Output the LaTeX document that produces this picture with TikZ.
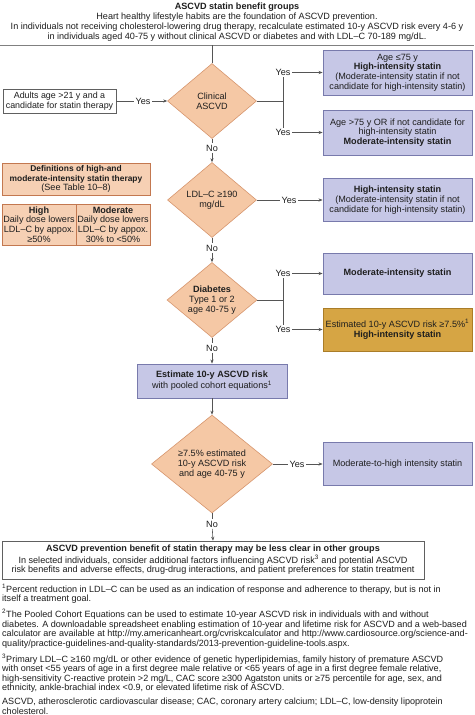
\documentclass[tikz,border=0pt]{standalone}
\usepackage{fontspec}
\setmainfont{Liberation Sans}
\usetikzlibrary{shapes.geometric,arrows.meta,calc}
\definecolor{lav}{RGB}{198,199,230}
\definecolor{lavd}{RGB}{120,122,172}
\definecolor{pch}{RGB}{245,200,165}
\definecolor{pchd}{RGB}{215,150,110}
\definecolor{defc}{RGB}{246,208,180}
\definecolor{defd}{RGB}{195,120,80}
\definecolor{goldc}{RGB}{214,165,68}
\definecolor{goldd}{RGB}{170,125,40}
\definecolor{ln}{RGB}{85,85,85}
\definecolor{txt}{RGB}{30,30,30}
\begin{document}
\begin{tikzpicture}[x=1pt,y=-1pt,
  every node/.style={font=\fontsize{9.1}{9.7}\selectfont, text=txt, inner sep=1pt},
  res/.style={draw=lavd, fill=lav, line width=0.9pt, minimum width=149pt, align=center, inner sep=1pt},
  gres/.style={draw=goldd, fill=goldc, line width=0.9pt, minimum width=149pt, align=center, inner sep=1pt},
  dec/.style={diamond, aspect=1.2, draw=pchd, fill=pch, line width=0.6pt, align=center, inner sep=0pt},
  defbox/.style={draw=defd, fill=defc, line width=0.7pt, align=center, inner sep=0pt},
  wbox/.style={draw=gray!75!black, fill=white, line width=0.6pt, align=center},
  conn/.style={draw=ln, line width=0.6pt},
  arr/.style={conn, -{Stealth[length=4pt,width=3.2pt]}},
  lbl/.style={fill=white, inner sep=1.5pt}
]
\useasboundingbox (0,0) rectangle (474,715);
\fill[white] (0,0) rectangle (474,715);

% header
\node[align=center, font=\fontsize{9.1}{10}\selectfont] (header) at (237,22) {{\bfseries ASCVD statin benefit groups}\\
Heart healthy lifestyle habits are the foundation of ASCVD prevention.\\
In individuals not receiving cholesterol-lowering drug therapy, recalculate estimated 10-y ASCVD risk every 4-6 y\\
in individuals aged 40-75 y without clinical ASCVD or diabetes and with LDL--C 70-189 mg/dL.};
\coordinate (rL) at (0,45);
\coordinate (rR) at (474,45);
\coordinate (rC) at (212,45);
\draw[conn, draw=gray] (rL) -- (rR);

% diamond 1
\node[dec, minimum width=89pt, minimum height=75pt] (d1) at (212,101) {Clinical\\ASCVD};
\draw[conn] (rC) -- (d1.north);

\node[wbox, minimum width=113pt, minimum height=24pt, inner sep=0.5pt, font=\fontsize{8.9}{9.7}\selectfont] (adult) at (59.5,101) {Adults age >21 y and a\\candidate for statin therapy};
\node[lbl] (y0) at (143,101) {Yes};
\draw[conn] (adult) -- (y0);
\draw[arr] (y0) -- (d1.west);

\node[res, minimum height=45pt] (b1) at (397.5,72.5) {Age ≤75 y\\\textbf{High-intensity statin}\\(Moderate-intensity statin if not\\candidate for high-intensity statin)};
\node[res, minimum height=45pt] (b2) at (397.5,132.5) {Age >75 y OR if not candidate for\\high-intensity statin\\\textbf{Moderate-intensity statin}};
\node[lbl] (y1) at (283,72.5) {Yes};
\node[lbl] (y2) at (283,132.5) {Yes};
\coordinate (br1) at (283,101);
\draw[conn] (d1.east) -- (br1);
\draw[conn] (y1) -- (y2);
\draw[arr] (y1) -- (b1);
\draw[arr] (y2) -- (b2);

% diamond 2
\node[lbl] (n1) at (212,148) {No};
\node[dec, minimum width=89pt, minimum height=75pt] (d2) at (212,200) {LDL--C ≥190\\mg/dL};
\draw[conn] (d1.south) -- (n1);
\draw[arr] (n1) -- (d2.north);
\node[res, minimum height=43pt] (b3) at (397.5,200) {\textbf{High-intensity statin}\\(Moderate-intensity statin if not\\candidate for high-intensity statin)};
\node[lbl] (y3) at (289,200) {Yes};
\draw[conn] (d2.east) -- (y3);
\draw[arr] (y3) -- (b3);

% definitions
\node[defbox, minimum width=148pt, minimum height=32pt] (defs) at (76,179) {{\fontsize{8.4}{9.7}\selectfont\textbf{Definitions of high-and}}\\{\fontsize{8.4}{9.7}\selectfont\textbf{moderate-intensity statin therapy}}\\(See Table 10--8)};
\node[defbox, minimum width=74pt, minimum height=41pt] (th) at (39,224.5) {\textbf{High}\\Daily dose lowers\\LDL--C by appox.\\≥50\%};
\node[defbox, minimum width=74pt, minimum height=41pt] (tm) at (113,224.5) {\textbf{Moderate}\\Daily dose lowers\\LDL--C by appox.\\30\% to <50\%};

% diamond 3
\node[lbl] (n2) at (212,248) {No};
\node[dec, minimum width=90pt, minimum height=75pt] (d3) at (212,300) {\textbf{Diabetes}\\Type 1 or 2\\age 40-75 y};
\draw[conn] (d2.south) -- (n2);
\draw[arr] (n2) -- (d3.north);
\node[res, minimum height=41pt] (b4) at (397.5,273.5) {\textbf{Moderate-intensity statin}};
\node[gres, minimum height=43pt] (b5) at (397.5,329.5) {Estimated 10-y ASCVD risk ≥7.5\%\textsuperscript{1}\\\textbf{High-intensity statin}};
\node[lbl] (y4) at (283,273.5) {Yes};
\node[lbl] (y5) at (283,329.5) {Yes};
\coordinate (br2) at (283,300);
\draw[conn] (d3.east) -- (br2);
\draw[conn] (y4) -- (y5);
\draw[arr] (y4) -- (b4);
\draw[arr] (y5) -- (b5);

% estimate
\node[lbl] (n3) at (212,348) {No};
\node[res, minimum width=150pt, minimum height=34pt] (est) at (212,381) {\textbf{Estimate 10-y ASCVD risk}\\with pooled cohort equations\textsuperscript{1}};
\draw[conn] (d3.south) -- (n3);
\draw[arr] (n3) -- (est.north);

% diamond 4
\node[dec, aspect=1.23, minimum width=121pt, minimum height=98pt] (d4) at (212,464) {≥7.5\% estimated\\10-y ASCVD risk\\and age 40-75 y};
\draw[arr] (est.south) -- (d4.north);
\node[res, minimum height=43pt] (b6) at (397.5,464) {Moderate-to-high intensity statin};
\node[lbl] (y6) at (297,464) {Yes};
\draw[conn] (d4.east) -- (y6);
\draw[arr] (y6) -- (b6);

% bottom
\node[lbl] (n4) at (212,524) {No};
\node[wbox, minimum width=422pt, minimum height=38pt, inner sep=1pt] (bot) at (213,560) {\textbf{ASCVD prevention benefit of statin therapy may be less clear in other groups}\\
In selected individuals, consider additional factors influencing ASCVD risk\textsuperscript{3} and potential ASCVD\\
risk benefits and adverse effects, drug-drug interactions, and patient preferences for statin treatment};
\draw[conn] (d4.south) -- (n4);
\draw[arr] (n4) -- (bot.north);

% footnotes
\node[anchor=north west, align=left, inner sep=0pt, font=\fontsize{9.05}{9.6}\selectfont] (foot) at (2,584) {\textsuperscript{1}Percent reduction in LDL--C can be used as an indication of response and adherence to therapy, but is not in\\
itself a treatment goal.\\[4.5pt]
\textsuperscript{2}The Pooled Cohort Equations can be used to estimate 10-year ASCVD risk in individuals with and without\\
diabetes. A downloadable spreadsheet enabling estimation of 10-year and lifetime risk for ASCVD and a web-based\\
calculator are available at http://my.americanheart.org/cvriskcalculator and http://www.cardiosource.org/science-and-\\
quality/practice-guidelines-and-quality-standards/2013-prevention-guideline-tools.aspx.\\[4.5pt]
\textsuperscript{3}Primary LDL--C ≥160 mg/dL or other evidence of genetic hyperlipidemias, family history of premature ASCVD\\
with onset <55 years of age in a first degree male relative or <65 years of age in a first degree female relative,\\
high-sensitivity C-reactive protein >2 mg/L, CAC score ≥300 Agatston units or ≥75 percentile for age, sex, and\\
ethnicity, ankle-brachial index <0.9, or elevated lifetime risk of ASCVD.\\[4.5pt]
ASCVD, atherosclerotic cardiovascular disease; CAC, coronary artery calcium; LDL--C, low-density lipoprotein\\
cholesterol.};
\end{tikzpicture}
\end{document}
